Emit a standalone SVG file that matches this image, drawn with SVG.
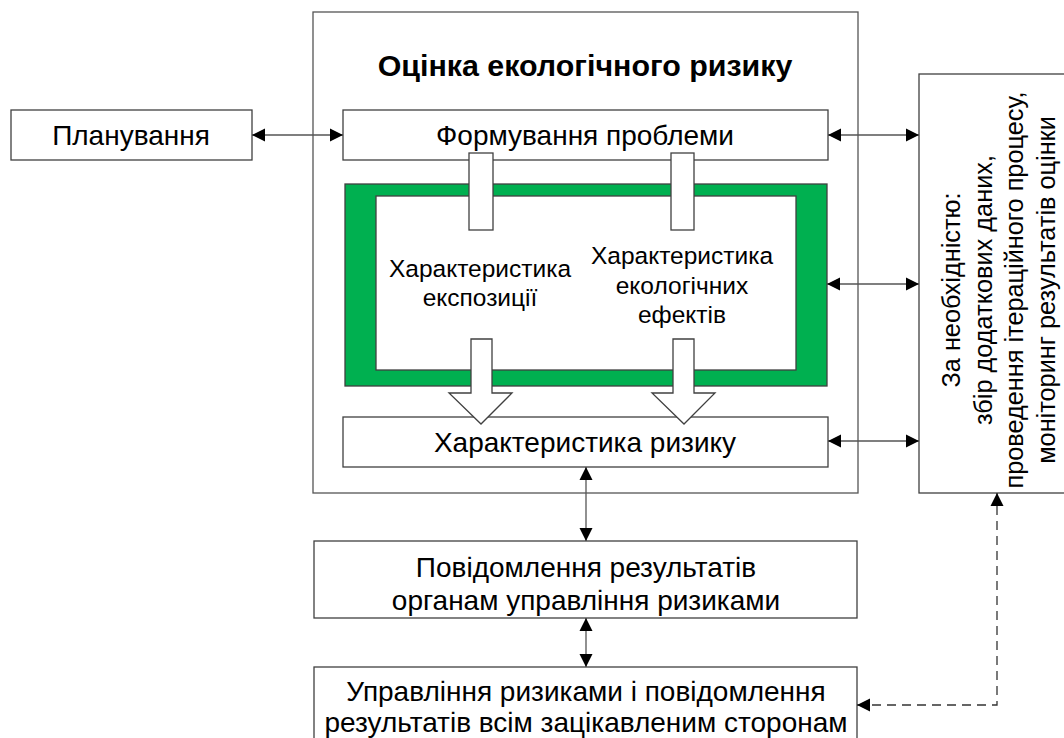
<svg xmlns="http://www.w3.org/2000/svg" width="1064" height="738" viewBox="0 0 1064 738">
<defs>
<marker id="ah" markerUnits="userSpaceOnUse" markerWidth="14" markerHeight="14" viewBox="0 0 14 14" refX="13" refY="7" orient="auto-start-reverse">
<path d="M0,0.5 L13,7 L0,13.5 Z" fill="#000"/>
</marker>
<style>
.box{fill:#fff;stroke:#404040;stroke-width:1.3}
.outer{fill:#fff;stroke:#555;stroke-width:1.3}
.t{font-family:"Liberation Sans",Arial,sans-serif;font-size:28px;fill:#000;text-anchor:middle}
.ti{font-family:"Liberation Sans",Arial,sans-serif;font-size:24.5px;fill:#000;text-anchor:middle}
.tr{font-family:"Liberation Sans",Arial,sans-serif;font-size:25.3px;fill:#000;text-anchor:middle}
.title{font-family:"Liberation Sans",Arial,sans-serif;font-size:30.4px;font-weight:bold;fill:#000;text-anchor:middle}
.ln{fill:none;stroke:#555;stroke-width:1.3}
.dash{fill:none;stroke:#333;stroke-width:1.3;stroke-dasharray:9,6}
.blk{fill:#fff;stroke:#404040;stroke-width:1.3}
</style>
</defs>

<g id="outer">
<rect class="outer" x="313" y="12" width="545" height="481"/>
<text class="title" x="585" y="76">Оцінка екологічного ризику</text>
</g>

<g id="planning">
<rect class="box" x="11" y="110" width="241" height="50"/>
<text class="t" x="131" y="145">Планування</text>
</g>

<g id="problem">
<rect class="box" x="343" y="110" width="485" height="50"/>
<text class="t" x="585" y="145">Формування проблеми</text>
</g>

<g id="analysis">
<rect x="345" y="184" width="482" height="202" fill="#00B050" stroke="#404040" stroke-width="1.3"/>
<rect class="box" x="376" y="196" width="420" height="174"/>
</g>

<g id="exposure">
<text class="ti" x="480" y="277">Характеристика</text>
<text class="ti" x="480" y="306">експозиції</text>
</g>

<g id="effects">
<text class="ti" x="682" y="264">Характеристика</text>
<text class="ti" x="682" y="294">екологічних</text>
<text class="ti" x="682" y="323">ефектів</text>
</g>

<g id="risk">
<rect class="box" x="343" y="417" width="485" height="50"/>
<text class="t" x="585" y="452">Характеристика ризику</text>
</g>

<g id="needs">
<rect class="box" x="919" y="74" width="160" height="419"/>
<g transform="translate(960,290) rotate(-90)">
<text class="tr" x="0" y="0">За необхідністю:</text>
<text class="tr" x="0" y="31.5">збір додаткових даних,</text>
<text class="tr" x="0" y="63">проведення ітераційного процесу,</text>
<text class="tr" x="0" y="94.5">моніторинг результатів оцінки</text>
</g>
</g>

<g id="report">
<rect class="box" x="314" y="541" width="543" height="77"/>
<text class="t" x="586" y="577">Повідомлення результатів</text>
<text class="t" x="586" y="610">органам управління ризиками</text>
</g>

<g id="management">
<rect class="box" x="314" y="667" width="543" height="90"/>
<text class="t" x="586" y="701">Управління ризиками і повідомлення</text>
<text class="t" x="586" y="732">результатів всім зацікавленим сторонам</text>
</g>

<g id="connectors">
<rect class="blk" x="469" y="153" width="24" height="77"/>
<rect class="blk" x="671" y="153" width="23" height="77"/>
<polygon class="blk" points="471,339 492,339 492,393 512,393 481,424 449,393 471,393"/>
<polygon class="blk" points="673,339 694,339 694,393 715,393 684,424 652,393 673,393"/>
<path class="ln" d="M252,135 H343" marker-start="url(#ah)" marker-end="url(#ah)"/>
<path class="ln" d="M828,135 H919" marker-start="url(#ah)" marker-end="url(#ah)"/>
<path class="ln" d="M827,284 H919" marker-start="url(#ah)" marker-end="url(#ah)"/>
<path class="ln" d="M828,441 H919" marker-start="url(#ah)" marker-end="url(#ah)"/>
<path class="ln" d="M586,467 V541" marker-start="url(#ah)" marker-end="url(#ah)"/>
<path class="ln" d="M586,618 V667" marker-start="url(#ah)" marker-end="url(#ah)"/>
<path class="dash" d="M857,705 H997 V493" marker-start="url(#ah)" marker-end="url(#ah)"/>
</g>
</svg>
